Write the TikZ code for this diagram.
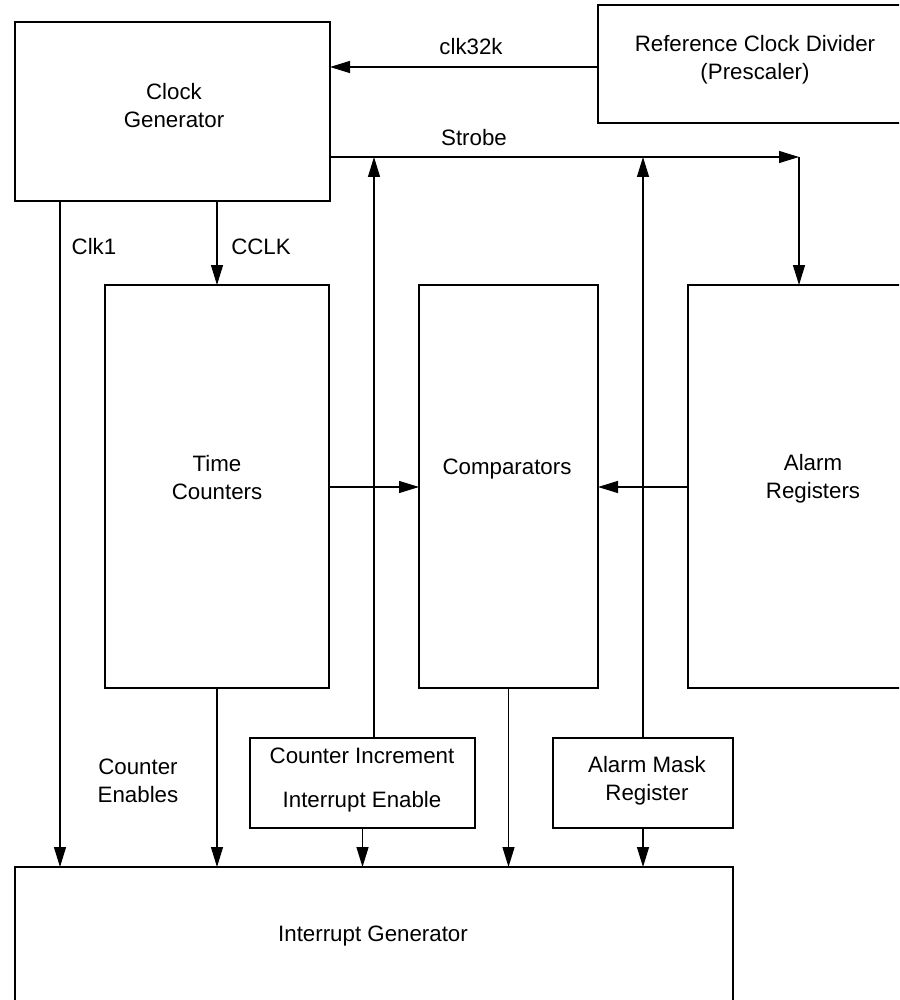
\documentclass[tikz,border=0pt]{standalone}
\usepackage{fontspec}
\setmainfont{Liberation Sans}
\usetikzlibrary{arrows.meta}
\begin{document}
\begin{tikzpicture}[x=0.5pt,y=-0.5pt,
  every node/.style={font=\fontsize{11.15pt}{14pt}\selectfont, align=center},
  blk/.style={draw, line width=0.65pt, inner sep=0pt, outer sep=0pt},
  arr/.style={line width=0.65pt, -{Triangle[length=10pt,width=6pt]}},
  txt/.style={inner sep=0pt}]
\useasboundingbox (0,0) rectangle (899,1000);
\clip (0,0) rectangle (899,1000);
\fill[white] (0,0) rectangle (899,1000);
% blocks
\node[blk, minimum width=157.5pt, minimum height=89.5pt] (cg) at (172.5,111.5) {};
\node[blk, minimum width=157pt, minimum height=59pt] (rcd) at (755,64) {};
\node[blk, minimum width=112pt, minimum height=201.5pt] (tc) at (217,486.5) {};
\node[blk, minimum width=89.5pt, minimum height=201.5pt] (cmp) at (508.5,486.5) {};
\node[blk, minimum width=125pt, minimum height=201.5pt] (ar) at (813,486.5) {};
\node[blk, minimum width=112.5pt, minimum height=45pt] (cie) at (362.5,783) {};
\node[blk, minimum width=90pt, minimum height=45pt] (amr) at (643,783) {};
\node[blk, minimum width=359pt, minimum height=69pt] (ig) at (374,936) {};
% block texts
\node[txt] (cgt) at (174,106) {Clock\\Generator};
\node[txt] (rcdt) at (755,60) {Reference Clock Divider\\(Prescaler)};
\node[txt] (tct) at (217,478) {Time\\Counters};
\node[txt] (cmpt) at (507,469) {Comparators};
\node[txt] (art) at (813,479) {Alarm\\Registers};
\node[txt, font=\fontsize{11.15pt}{22pt}\selectfont] (ciet) at (362,780) {Counter Increment\\Interrupt Enable};
\node[txt] (amrt) at (647,781) {Alarm Mask\\Register};
\node[txt] (igt) at (373,936) {Interrupt Generator};
% helper coordinates
\coordinate (k) at (0,67);
\coordinate (sc) at (799,157);
\coordinate (u1) at (374,157);
\coordinate (c1) at (60,0);
\coordinate (h) at (0,487);
% connectors
\draw[arr] (rcd.west |- k) -- (cg.east |- k);
\draw[arr] (cg.east |- sc) -- (sc);
\draw[arr] (sc) -- (sc |- ar.north);
\draw[arr] (u1 |- cie.north) -- (u1);
\draw[arr] (amr.north) -- (amr.north |- sc);
\draw[arr] (c1 |- cg.south) -- (c1 |- ig.north);
\draw[arr] (tc.north |- cg.south) -- (tc.north);
\draw[arr] (tc.east |- h) -- (cmp.west |- h);
\draw[arr] (ar.west |- h) -- (cmp.east |- h);
\draw[arr] (tc.south) -- (tc.south |- ig.north);
\draw[arr] (cmp.south) -- (cmp.south |- ig.north);
\draw[arr] (cie.south) -- (cie.south |- ig.north);
\draw[arr] (amr.south) -- (amr.south |- ig.north);
% labels
\node[txt] (lclk32k) at (471,47) {clk32k};
\node[txt] (lstrobe) at (474,137.5) {Strobe};
\node[txt] (lclk1) at (94,247) {Clk1};
\node[txt] (lcclk) at (261,247) {CCLK};
\node[txt] (lce) at (138,781) {Counter\\Enables};
\end{tikzpicture}
\end{document}
